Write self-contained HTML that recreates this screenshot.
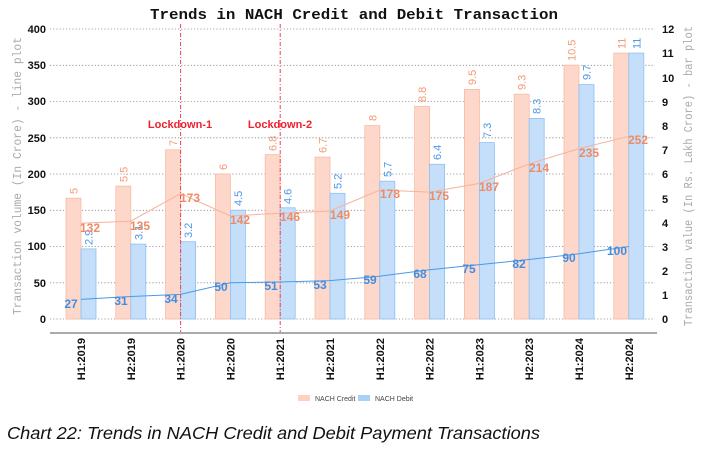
<!DOCTYPE html>
<html><head><meta charset="utf-8"><style>
html,body{margin:0;padding:0;background:#fff;}
svg{display:block;}
.t{font-family:"Liberation Sans",sans-serif;}
.c{font-family:"Liberation Mono",monospace;}
</style></head><body>
<svg width="701" height="451" viewBox="0 0 701 451" xmlns="http://www.w3.org/2000/svg">
<text x="354" y="19" class="c" font-size="15" font-weight="bold" text-anchor="middle" fill="#111" textLength="408" lengthAdjust="spacingAndGlyphs">Trends in NACH Credit and Debit Transaction</text>
<g stroke="#888" stroke-dasharray="1.2,2" stroke-width="0.8">
<line x1="50" x2="655" y1="29" y2="29"/><line x1="50" x2="655" y1="65.3" y2="65.3"/>
<line x1="50" x2="655" y1="101.5" y2="101.5"/><line x1="50" x2="655" y1="137.8" y2="137.8"/>
<line x1="50" x2="655" y1="174" y2="174"/><line x1="50" x2="655" y1="210.3" y2="210.3"/>
<line x1="50" x2="655" y1="246.5" y2="246.5"/><line x1="50" x2="655" y1="282.8" y2="282.8"/>
<line x1="50" x2="655" y1="319" y2="319"/>
</g>
<g class="t" font-size="11" font-weight="bold" fill="#111" text-anchor="end">
<text x="46" y="33">400</text><text x="46" y="69">350</text><text x="46" y="105">300</text><text x="46" y="142">250</text><text x="46" y="178">200</text><text x="46" y="214">150</text><text x="46" y="250">100</text><text x="46" y="287">50</text><text x="46" y="323">0</text>
</g>
<g class="t" font-size="11" font-weight="bold" fill="#111">
<text x="662" y="33">12</text><text x="662" y="57">11</text><text x="662" y="82">10</text><text x="662" y="106">9</text><text x="662" y="130">8</text><text x="662" y="154">7</text><text x="662" y="178">6</text><text x="662" y="203">5</text><text x="662" y="227">4</text><text x="662" y="251">3</text><text x="662" y="275">2</text><text x="662" y="299">1</text><text x="662" y="323">0</text>
</g>
<text transform="translate(21,176) rotate(-90)" class="c" font-size="11.5" fill="#aaa" text-anchor="middle" textLength="278" lengthAdjust="spacingAndGlyphs">Transaction volume (In Crore) - line plot</text>
<text transform="translate(692,176) rotate(-90)" class="c" font-size="11.5" fill="#aaa" text-anchor="middle" textLength="300" lengthAdjust="spacingAndGlyphs">Transaction value (In Rs. Lakh Crore) - bar plot</text>
<g fill="#fdd8ca" stroke="#f9bba3" stroke-width="0.8">
<rect x="66" y="198.2" width="15" height="120.8"/><rect x="115.8" y="186.1" width="15" height="132.9"/>
<rect x="165.6" y="149.8" width="15" height="169.2"/><rect x="215.4" y="174" width="15" height="145"/>
<rect x="265.2" y="154.6" width="15" height="164.4"/><rect x="315" y="157.1" width="15" height="161.9"/>
<rect x="364.8" y="125.6" width="15" height="193.4"/><rect x="414.6" y="106.3" width="15" height="212.7"/>
<rect x="464.4" y="89.4" width="15" height="229.6"/><rect x="514.2" y="94.2" width="15" height="224.8"/>
<rect x="564" y="65.2" width="15" height="253.8"/><rect x="613.8" y="53.1" width="15" height="265.9"/>
</g>
<g fill="#c5dffb" stroke="#8dc0f2" stroke-width="0.8">
<rect x="81" y="248.9" width="15" height="70.1"/><rect x="130.8" y="244.1" width="15" height="74.9"/>
<rect x="180.6" y="241.7" width="15" height="77.3"/><rect x="230.4" y="210.2" width="15" height="108.8"/>
<rect x="280.2" y="207.8" width="15" height="111.2"/><rect x="330" y="193.3" width="15" height="125.7"/>
<rect x="379.8" y="181.2" width="15" height="137.8"/><rect x="429.6" y="164.3" width="15" height="154.7"/>
<rect x="479.4" y="142.6" width="15" height="176.4"/><rect x="529.2" y="118.4" width="15" height="200.6"/>
<rect x="579" y="84.6" width="15" height="234.4"/><rect x="628.8" y="53.1" width="15" height="265.9"/>
</g>
<g class="t" font-size="11" fill="#f39a78">
<text transform="translate(77.5,194) rotate(-90)">5</text>
<text transform="translate(127.3,182) rotate(-90)">5.5</text>
<text transform="translate(177.1,146) rotate(-90)">7</text>
<text transform="translate(226.9,170) rotate(-90)">6</text>
<text transform="translate(276.7,151) rotate(-90)">6.8</text>
<text transform="translate(326.5,153) rotate(-90)">6.7</text>
<text transform="translate(376.3,121) rotate(-90)">8</text>
<text transform="translate(426.1,102) rotate(-90)">8.8</text>
<text transform="translate(475.9,85) rotate(-90)">9.5</text>
<text transform="translate(525.7,90) rotate(-90)">9.3</text>
<text transform="translate(575.5,61) rotate(-90)">10.5</text>
<text transform="translate(625.3,49) rotate(-90)">11</text>
</g>
<g class="t" font-size="11" fill="#4d97e8">
<text transform="translate(92.5,245) rotate(-90)">2.9</text>
<text transform="translate(142.3,240) rotate(-90)">3.1</text>
<text transform="translate(192.1,238) rotate(-90)">3.2</text>
<text transform="translate(241.9,206) rotate(-90)">4.5</text>
<text transform="translate(291.7,204) rotate(-90)">4.6</text>
<text transform="translate(341.5,189) rotate(-90)">5.2</text>
<text transform="translate(391.3,177) rotate(-90)">5.7</text>
<text transform="translate(441.1,160) rotate(-90)">6.4</text>
<text transform="translate(490.9,138) rotate(-90)">7.3</text>
<text transform="translate(540.7,114) rotate(-90)">8.3</text>
<text transform="translate(590.5,80) rotate(-90)">9.7</text>
<text transform="translate(640.3,49) rotate(-90)">11</text>
</g>
<polyline fill="none" stroke="#f6b39b" stroke-width="1" points="81,223.3 130.8,221.1 180.6,193.6 230.4,216 280.2,213.2 330,211 379.8,190 429.6,192.1 479.4,183.4 529.2,163.9 579,148.6 628.8,136.3"/>
<polyline fill="none" stroke="#4a9ae8" stroke-width="1" points="81,299.4 130.8,296.5 180.6,294.4 230.4,282.8 280.2,282 330,280.6 379.8,276.2 429.6,269.7 479.4,264.6 529.2,259.5 579,253.8 628.8,246.5"/>
<g class="t" font-size="12" font-weight="bold" fill="#f08a62">
<text x="80" y="232">132</text><text x="130" y="230">135</text><text x="180" y="202">173</text>
<text x="230" y="224">142</text><text x="280" y="221">146</text><text x="330" y="219">149</text>
<text x="380" y="198">178</text><text x="429" y="200">175</text><text x="479" y="191">187</text>
<text x="529" y="172">214</text><text x="579" y="157">235</text><text x="628" y="144">252</text>
</g>
<g class="t" font-size="12" font-weight="bold" fill="#3d8fe6" text-anchor="middle">
<text x="71" y="308">27</text><text x="121" y="305">31</text><text x="171" y="303">34</text>
<text x="221" y="291">50</text><text x="271" y="290">51</text><text x="320" y="289">53</text>
<text x="370" y="284">59</text><text x="420" y="278">68</text><text x="469" y="273">75</text>
<text x="519" y="268">82</text><text x="569" y="262">90</text><text x="617" y="255">100</text>
</g>
<g stroke="#f0405a" stroke-width="1" stroke-dasharray="4,2,1,2">
<line x1="180.6" x2="180.6" y1="24" y2="335"/><line x1="280.2" x2="280.2" y1="24" y2="335"/>
</g>
<g class="t" font-size="11" font-weight="bold" fill="#f0202e" text-anchor="middle">
<text x="180" y="128">Lockdown-1</text><text x="280" y="128">Lockdown-2</text>
</g>
<line x1="50" x2="657" y1="333" y2="333" stroke="#aaa" stroke-width="2"/>
<g class="t" font-size="11" font-weight="bold" fill="#111" text-anchor="end">
<text transform="translate(85,338) rotate(-90)">H1:2019</text>
<text transform="translate(134.8,338) rotate(-90)">H2:2019</text>
<text transform="translate(184.6,338) rotate(-90)">H1:2020</text>
<text transform="translate(234.4,338) rotate(-90)">H2:2020</text>
<text transform="translate(284.2,338) rotate(-90)">H1:2021</text>
<text transform="translate(334,338) rotate(-90)">H2:2021</text>
<text transform="translate(383.8,338) rotate(-90)">H1:2022</text>
<text transform="translate(433.6,338) rotate(-90)">H2:2022</text>
<text transform="translate(483.4,338) rotate(-90)">H1:2023</text>
<text transform="translate(533.2,338) rotate(-90)">H2:2023</text>
<text transform="translate(583,338) rotate(-90)">H1:2024</text>
<text transform="translate(632.8,338) rotate(-90)">H2:2024</text>
</g>
<rect x="298" y="395" width="12" height="6" fill="#fdd0c0"/>
<text x="315" y="401" class="t" font-size="7" fill="#444">NACH Credit</text>
<rect x="358" y="395" width="12" height="6" fill="#a8d0f8"/>
<text x="375" y="401" class="t" font-size="7" fill="#444">NACH Debit</text>
<text x="7" y="439" class="t" font-size="17.5" font-style="italic" fill="#111" textLength="533" lengthAdjust="spacingAndGlyphs">Chart 22: Trends in NACH Credit and Debit Payment Transactions</text>
</svg>
</body></html>
